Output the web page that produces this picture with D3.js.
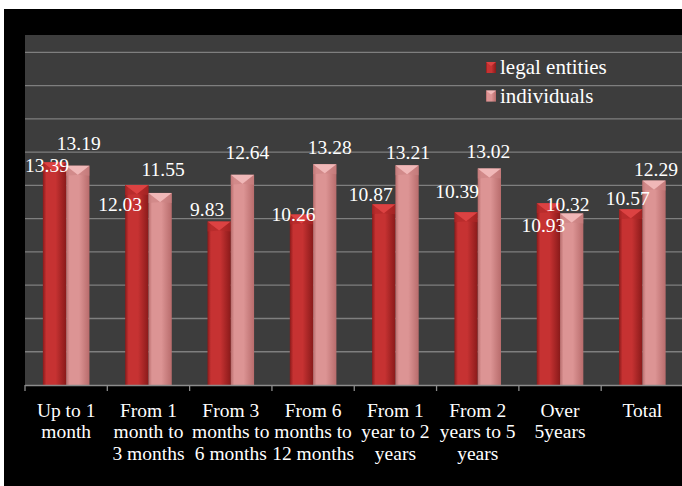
<!DOCTYPE html>
<html><head><meta charset="utf-8">
<script src="https://cdn.jsdelivr.net/npm/d3@7"></script>
<style>html,body{margin:0;padding:0;background:#fff;}svg{display:block;}
svg text{font-family:"Liberation Serif","Times New Roman",Times,serif;}</style>
</head><body>
<script>
const categories = [
  ["Up to 1","month"],
  ["From 1","month to","3 months"],
  ["From 3","months to","6 months"],
  ["From 6","months to","12 months"],
  ["From 1","year to 2","years"],
  ["From 2","years to 5","years"],
  ["Over","5years"],
  ["Total"]
];
const seriesNames = ["legal entities","individuals"];
const legalEntities = [13.39,12.03,9.83,10.26,10.87,10.39,10.93,10.57];
const individuals   = [13.19,11.55,12.64,13.28,13.21,13.02,10.32,12.29];
const yTicks = [2,4,6,8,10,12,14,16,18,20];

// label nudges (layout only), relative to bar top centre
const labelNudge = [
  [[-7.5,9.4],[-16.7,26],[-12,-5.5],[-8,6.3],[-13,-3],[-9,-14],[-5,28.5],[-3,-4]],
  [[1,-15.6],[3,-17.2],[5,-15.5],[5,-10],[1,-6],[-1,-10],[-4,-2.4],[2,-4.6]]
];

const W=682,H=486;
const svg=d3.select("body").append("svg").attr("width",W).attr("height",H);
svg.append("rect").attr("x",4).attr("y",9).attr("width",W-4).attr("height",H-9).attr("fill","#000");

const plot={l:25,t:35,r:683.5,b:385};
svg.append("rect").attr("x",plot.l).attr("y",plot.t).attr("width",W-plot.l).attr("height",plot.b-plot.t).attr("fill","#3d3d3d");

const y=d3.scaleLinear().domain([0,(plot.b-plot.t)/16.63]).range([plot.b,plot.t]);
const keys=categories.map((c,i)=>i);
const x=d3.scaleBand().domain(keys).range([plot.l,plot.r]).paddingInner(0).paddingOuter(0);
const groupW=x.bandwidth()*0.566;
const xs=d3.scaleBand().domain([0,1]).range([0,groupW]);

// gridlines
svg.append("g").selectAll("line").data(yTicks).join("line")
  .attr("x1",plot.l).attr("x2",W).attr("y1",d=>y(d)).attr("y2",d=>y(d))
  .attr("stroke","#7f7f7f").attr("stroke-width",1.3);

// gradients
const defs=svg.append("defs");
const pal=[
  {edge:"#8a1a1a",mid:"#c63232",cap:"#dc4242",capSide:"#b02828"},
  {edge:"#b86c6c",mid:"#dc9494",cap:"#f0b8b8",capSide:"#cc8484"}
];
pal.forEach((p,i)=>{
  const g=defs.append("linearGradient").attr("id","g"+i).attr("x1","0").attr("x2","1").attr("y1","0").attr("y2","0");
  g.append("stop").attr("offset","0").attr("stop-color",p.edge);
  g.append("stop").attr("offset","0.15").attr("stop-color",p.mid);
  g.append("stop").attr("offset","0.55").attr("stop-color",p.mid);
  g.append("stop").attr("offset","1").attr("stop-color",p.edge);
});

const series=[legalEntities,individuals];
const bars=svg.append("g");
series.forEach((vals,s)=>{
  const p=pal[s];
  vals.forEach((v,i)=>{
    const x0=x(i)+(x.bandwidth()-groupW)/2+xs(s);
    const w=xs.bandwidth();
    const top=y(v), cap=9;
    const g=bars.append("g");
    g.append("rect").attr("x",x0).attr("y",top).attr("width",w).attr("height",plot.b-top).attr("fill",`url(#g${s})`);
    g.append("polygon").attr("points",`${x0},${top} ${x0+w/2},${top+cap} ${x0},${top+cap+1}`).attr("fill",p.capSide).attr("opacity",0.6);
    g.append("polygon").attr("points",`${x0+w},${top} ${x0+w/2},${top+cap} ${x0+w},${top+cap+1}`).attr("fill",p.capSide).attr("opacity",0.6);
    g.append("polygon").attr("points",`${x0},${top} ${x0+w},${top} ${x0+w/2},${top+cap}`).attr("fill",p.cap);
  });
});

// axis
const ax=svg.append("g");
ax.append("line").attr("x1",plot.l).attr("x2",W).attr("y1",plot.b+0.5).attr("y2",plot.b+0.5).attr("stroke","#8c8c8c").attr("stroke-width",1.5);
ax.selectAll("line.t").data(keys.concat([keys.length])).join("line").attr("class","t")
  .attr("x1",d=>plot.l+d*x.step()).attr("x2",d=>plot.l+d*x.step())
  .attr("y1",plot.b).attr("y2",plot.b+6).attr("stroke","#8c8c8c").attr("stroke-width",1.3);
categories.forEach((lines,i)=>{
  const t=ax.append("text").attr("text-anchor","middle").attr("font-size",19.5).attr("fill","#fff");
  lines.forEach((ln,k)=>t.append("tspan").attr("x",x(i)+x.bandwidth()/2).attr("y",416.5+k*21.5).text(ln));
});

// value labels
series.forEach((vals,s)=>{
  vals.forEach((v,i)=>{
    const cx=x(i)+(x.bandwidth()-groupW)/2+xs(s)+xs.bandwidth()/2;
    svg.append("text").attr("x",cx+labelNudge[s][i][0]).attr("y",y(v)+labelNudge[s][i][1])
      .attr("text-anchor","middle").attr("font-size",19.5).attr("fill","#fff")
      .text(v.toFixed(2));
  });
});

// legend
const lg=svg.append("g");
seriesNames.forEach((n,s)=>{
  const yy=74+s*28.6;
  lg.append("rect").attr("x",486).attr("y",yy-12).attr("width",10).attr("height",11).attr("fill",`url(#g${s})`);
  lg.append("polygon").attr("points",`486,${yy-12} 496,${yy-12} 491,${yy-8}`).attr("fill",pal[s].cap);
  lg.append("text").attr("x",500).attr("y",yy).attr("font-size",21).attr("fill","#fff").text(n);
});
</script>
</body></html>
